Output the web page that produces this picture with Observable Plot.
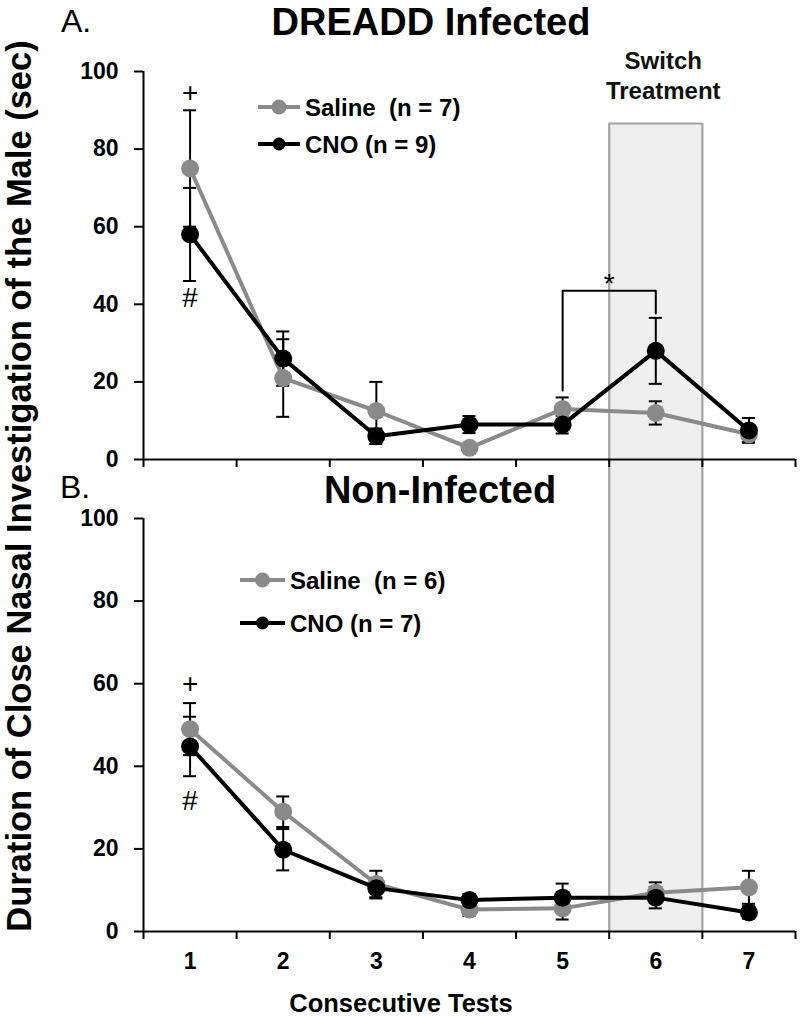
<!DOCTYPE html>
<html><head><meta charset="utf-8">
<script src="https://cdn.jsdelivr.net/npm/d3@7"></script>
<script src="https://cdn.jsdelivr.net/npm/@observablehq/plot@0.6"></script>
<style>
body{margin:0;background:#fff;}
#chart{position:relative;width:800px;height:1017px;overflow:hidden;font-family:"Liberation Sans",Arial,sans-serif;background:#fff;}
#chart svg.panel{position:absolute;left:0;overflow:hidden;}
#overlay{position:absolute;left:0;top:0;pointer-events:none;}
</style></head><body><div id="chart"></div>
<script>
// ---- data ----
const tests = [1, 2, 3, 4, 5, 6, 7];
const testBoundaries = [0.5, 1.5, 2.5, 3.5, 4.5, 5.5, 6.5, 7.5];
const yTicks = [0, 20, 40, 60, 80, 100];

// A. DREADD Infected
const dreaddSaline    = [75, 21, 12.5, 3, 13, 12, 6.5];
const dreaddSalineErr = [15, 10, 7.5, 1, 3, 3, 2];
const dreaddCNO       = [58, 26, 6, 9, 9, 28, 7.5];
const dreaddCNOErr    = [12, 7, 2, 2.2, 2.3, 8.5, 3.2];

// B. Non-Infected
const nonSaline    = [49, 29, 11.5, 5.3, 5.6, 9.4, 10.7];
const nonSalineErr = [6.3, 3.7, 3.2, 1.5, 2.7, 2.5, 4];
const nonCNO       = [44.8, 19.8, 10.5, 7.6, 8.2, 8.2, 4.6];
const nonCNOErr    = [7.2, 5, 2.5, 1.5, 3.4, 2.6, 1.5];

const legendA = ["Saline  (n = 7)", "CNO (n = 9)"];
const legendB = ["Saline  (n = 6)", "CNO (n = 7)"];

// annotations
const switchWindow = [5.5, 6.5];
const switchTopA = 86.6;
const switchLabel = [{x: 6.08, y: 102.6, t: "Switch"}, {x: 6.08, y: 94.8, t: "Treatment"}];
const marksA = [{x: 1, y: 94.5, t: "+"}, {x: 1, y: 41.5, t: "#"}, {x: 5.5, y: 45.3, t: "*"}];
const marksB = [{x: 1, y: 59.8, t: "+"}, {x: 1, y: 31.7, t: "#"}];
const bracketA = [{x: 5, y: 17.8}, {x: 5, y: 43.5}, {x: 6, y: 43.5}, {x: 6, y: 37.6}];

const GRAY = "#8a8a8a";
const FONT = "Liberation Sans, Arial, sans-serif";

function rows(means, errs) {
  return tests.map((t, i) => ({test: t, mean: means[i], lo: means[i] - errs[i], hi: means[i] + errs[i]}));
}

function panel({saline, salineErr, cno, cnoErr, height, marginTop, marginBottom, showLabels, rectY1, rectY2, rectTop, notes, bracket, extra}) {
  const S = rows(saline, salineErr), C = rows(cno, cnoErr);
  const all = S.concat(C);
  const capW = 0.07;
  const marks = [
    Plot.rect([switchWindow], {x1: d => d[0], x2: d => d[1], y1: rectY1, y2: rectY2, fill: "#efefef"}),
    Plot.ruleX(switchWindow, {x: d => d, y1: rectY1, y2: rectY2, stroke: "#a3a3a3", strokeWidth: 2.2}),
  ];
  if (rectTop) marks.push(Plot.ruleY([rectY1], {x1: switchWindow[0], x2: switchWindow[1], stroke: "#a3a3a3", strokeWidth: 2.2}));
  marks.push(
    Plot.axisY({ticks: yTicks, tickSize: 9, tickPadding: 16, fontSize: 23, fontWeight: "bold", strokeWidth: 2, label: null, tickFormat: d => String(d)}),
    Plot.axisX({ticks: testBoundaries, tickSize: 8, strokeWidth: 2, tickFormat: () => "", label: null}),
    Plot.ruleX([0.5], {y1: 0, y2: 100, strokeWidth: 2}),
    Plot.ruleY([0], {x1: 0.5, x2: 7.5, strokeWidth: 2})
  );
  if (showLabels) marks.push(Plot.axisX({ticks: tests, tickSize: 0, tickPadding: 21, fontSize: 23, fontWeight: "bold", label: null, tickFormat: d => String(d)}));
  marks.push(
    Plot.ruleX(all, {x: "test", y1: "lo", y2: "hi", stroke: "black", strokeWidth: 2}),
    Plot.ruleY(all, {y: "hi", x1: d => d.test - capW, x2: d => d.test + capW, stroke: "black", strokeWidth: 2}),
    Plot.ruleY(all, {y: "lo", x1: d => d.test - capW, x2: d => d.test + capW, stroke: "black", strokeWidth: 2}),
    Plot.line(S, {x: "test", y: "mean", stroke: GRAY, strokeWidth: 4}),
    Plot.dot(S, {x: "test", y: "mean", r: 9, fill: GRAY}),
    Plot.line(C, {x: "test", y: "mean", stroke: "black", strokeWidth: 4}),
    Plot.dot(C, {x: "test", y: "mean", r: 9, fill: "black"}),
    Plot.text(notes, {x: "x", y: "y", text: "t", fontSize: 28, fill: "black"})
  );
  if (bracket) marks.push(Plot.line(bracket, {x: "x", y: "y", stroke: "black", strokeWidth: 2}));
  if (extra) marks.push(...extra);
  return Plot.plot({
    width: 800, height, marginTop, marginBottom, marginLeft: 143, marginRight: 5,
    x: {domain: [0.5, 7.5]},
    y: {domain: [0, 100]},
    style: {fontFamily: FONT, background: "transparent", color: "black", overflow: "hidden"},
    marks
  });
}

const chart = document.getElementById("chart");

const topPlot = panel({
  saline: dreaddSaline, salineErr: dreaddSalineErr, cno: dreaddCNO, cnoErr: dreaddCNOErr,
  height: 472, marginTop: 71, marginBottom: 13, showLabels: false,
  rectY1: switchTopA, rectY2: -6, rectTop: true, notes: marksA, bracket: bracketA,
  extra: [Plot.text(switchLabel, {x: "x", y: "y", text: "t", fontSize: 24, fontWeight: "bold", fill: "#111"})]
});
topPlot.classList.add("panel"); topPlot.style.top = "0px";
chart.appendChild(topPlot);

const bottomPlot = panel({
  saline: nonSaline, salineErr: nonSalineErr, cno: nonCNO, cnoErr: nonCNOErr,
  height: 545, marginTop: 46, marginBottom: 86, showLabels: true,
  rectY1: 118, rectY2: 0, rectTop: false, notes: marksB, bracket: null
});
bottomPlot.classList.add("panel"); bottomPlot.style.top = "472px";
chart.appendChild(bottomPlot);

// overlay: titles, axis titles, legends
const ov = d3.select(chart).append("svg").attr("id", "overlay").attr("width", 800).attr("height", 1017)
  .style("font-family", FONT);
function txt(x, y, s, size, weight, anchor, transform) {
  const t = ov.append("text").attr("font-size", size).attr("font-weight", weight)
    .attr("text-anchor", anchor || "start").attr("fill", "black").style("white-space", "pre").text(s);
  if (transform) t.attr("transform", transform); else t.attr("x", x).attr("y", y);
  return t;
}
txt(61, 32, "A.", 32, "normal");
txt(431, 35, "DREADD Infected", 38, "bold", "middle");
txt(60, 498, "B.", 32, "normal");
txt(440, 503, "Non-Infected", 38, "bold", "middle");
txt(0, 0, "Duration of Close Nasal Investigation of the Male (sec)", 34.5, "bold", "middle", "translate(31,486) rotate(-90)");
txt(401, 1012, "Consecutive Tests", 25.5, "bold", "middle");

function legend(x0, x1, labels, ys) {
  const colors = [GRAY, "black"], radii = [7.5, 6.5];
  labels.forEach((lab, i) => {
    ov.append("line").attr("x1", x0).attr("x2", x1).attr("y1", ys[i]).attr("y2", ys[i])
      .attr("stroke", colors[i]).attr("stroke-width", 4);
    ov.append("circle").attr("cx", (x0 + x1) / 2).attr("cy", ys[i]).attr("r", radii[i]).attr("fill", colors[i]);
    txt(x1 + 5, ys[i] + 8.5, lab, 24, "bold");
  });
}
legend(258, 300, legendA, [107, 144]);
legend(240, 285, legendB, [580, 623]);
</script>
</body></html>
